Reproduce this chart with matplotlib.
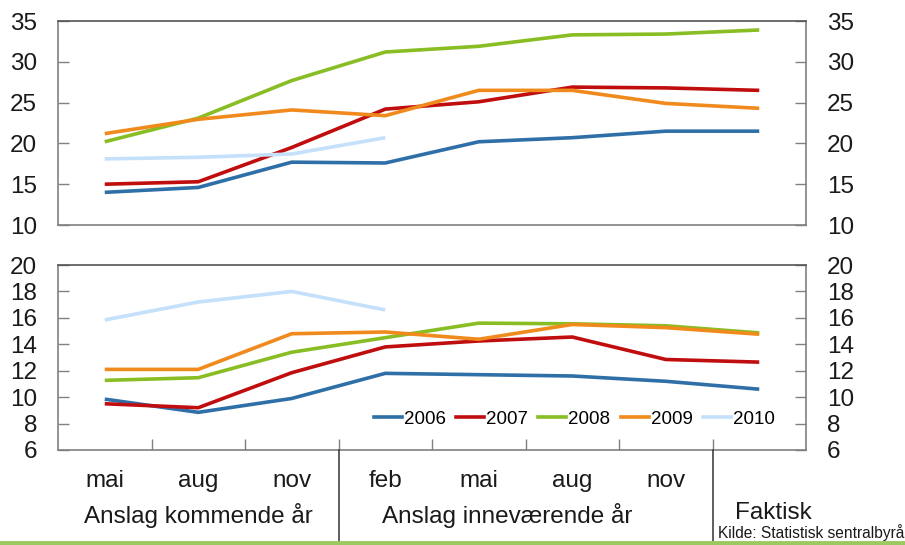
import matplotlib.pyplot as plt
from matplotlib.transforms import blended_transform_factory
from matplotlib.lines import Line2D

plt.rcParams['font.family'] = ['Liberation Sans', 'DejaVu Sans']

# x categories (8 points)
months = ['mai', 'aug', 'nov', 'feb', 'mai', 'aug', 'nov']
groups = ['Anslag kommende år', 'Anslag inneværende år', 'Faktisk']
years = ['2006', '2007', '2008', '2009', '2010']
colors = ['#2f6fa7', '#c00d0d', '#88bd24', '#f08a1c', '#c4e0fa']

# top panel
top_2006 = [14.0, 14.6, 17.7, 17.6, 20.2, 20.7, 21.5, 21.5]
top_2007 = [15.0, 15.3, 19.5, 24.2, 25.1, 26.9, 26.8, 26.5]
top_2008 = [20.2, 23.1, 27.7, 31.2, 31.9, 33.3, 33.4, 33.9]
top_2009 = [21.2, 22.95, 24.1, 23.4, 26.5, 26.5, 24.9, 24.3]
top_2010 = [18.1, 18.3, 18.7, 20.7]

# bottom panel
bot_2006 = [9.85, 8.85, 9.9, 11.8, 11.7, 11.6, 11.2, 10.6]
bot_2007 = [9.5, 9.2, 11.85, 13.8, 14.25, 14.55, 12.85, 12.65]
bot_2008 = [11.27, 11.47, 13.4, 14.5, 15.6, 15.55, 15.4, 14.86]
bot_2009 = [12.1, 12.1, 14.8, 14.93, 14.38, 15.5, 15.26, 14.76]
bot_2010 = [15.84, 17.2, 18.0, 16.6]

top_series = [top_2006, top_2007, top_2008, top_2009, top_2010]
bot_series = [bot_2006, bot_2007, bot_2008, bot_2009, bot_2010]

fig = plt.figure(figsize=(9.05, 5.45), dpi=100)
ax1 = fig.add_axes([58 / 905, 1 - 225 / 545, 748 / 905, 204 / 545])
ax2 = fig.add_axes([58 / 905, 1 - 450 / 545, 748 / 905, 185 / 545])

spine_col = '#808080'


def style(ax, lo, hi, step):
    ax.set_xlim(0, 8)
    ax.set_ylim(lo, hi)
    ax.set_yticks(range(lo, hi + 1, step))
    for s in ax.spines.values():
        s.set_color(spine_col)
        s.set_linewidth(1.2)
    ax.spines['top'].set_color('#555555')
    ax.tick_params(axis='y', which='both', direction='in', length=8, width=1,
                   color=spine_col, labelsize=17.5, pad=15,
                   left=True, right=True, labelleft=True, labelright=True,
                   labelcolor='#1a1a1a')


for ax, series, (lo, hi, st) in [(ax1, top_series, (10, 35, 5)), (ax2, bot_series, (6, 20, 2))]:
    style(ax, lo, hi, st)
    for vals, c, y in zip(series, colors, years):
        xs = [i + 0.5 for i in range(len(vals))]
        ax.plot(xs, vals, color=c, lw=2.6, label=y, solid_capstyle='butt')

ax1.set_xticks([])
ax2.set_xticks(range(1, 8))
ax2.set_xticklabels([])
ax2.tick_params(axis='x', direction='in', length=8, width=1, color=spine_col)

# legend
handles = [Line2D([], [], color=c, lw=2.6) for c in colors]
ax2.legend(handles, years, loc='lower right', bbox_to_anchor=(0.968, 0.08), ncol=5,
           frameon=False, fontsize=13.5, handlelength=1.5, handletextpad=0.1,
           columnspacing=0.55, borderaxespad=0)

# category labels
tr = blended_transform_factory(ax2.transData, fig.transFigure)
for i, m in enumerate(months):
    fig.text(i + 0.5, 1 - 481 / 545, m, transform=tr, ha='center', va='center',
             fontsize=17.5, color='#1a1a1a')
fig.text(1.5, 1 - 515 / 545, groups[0], transform=tr, ha='center', va='center',
         fontsize=17.5, color='#1a1a1a')
fig.text(4.8, 1 - 515 / 545, groups[1], transform=tr, ha='center', va='center',
         fontsize=17.5, color='#1a1a1a')
fig.text(7.65, 1 - 513 / 545, groups[2], transform=tr, ha='center', va='center',
         fontsize=17.5, color='#1a1a1a')

# separators
for xv in [3, 7]:
    fig.add_artist(Line2D([xv, xv], [1 - 450 / 545, 1 - 541 / 545], transform=tr,
                          color='#333333', lw=1.1))

# bottom green rule
fig.add_artist(Line2D([0, 1], [1 - 542.5 / 545, 1 - 542.5 / 545], transform=fig.transFigure,
                      color='#9cc95f', lw=3.5))

fig.text(1 - 1 / 905, 1 - 538 / 545, 'Kilde: Statistisk sentralbyrå', ha='right', va='baseline',
         fontsize=11.2, color='#1a1a1a')

fig.savefig('out.png', dpi=100)
